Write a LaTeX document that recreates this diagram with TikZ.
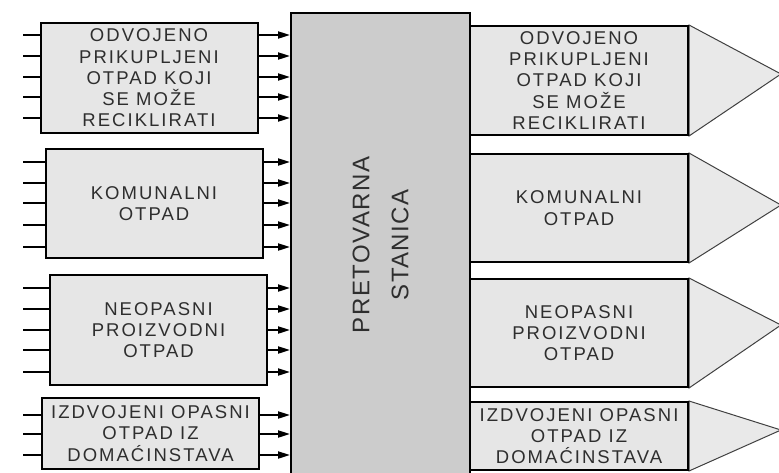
\documentclass[tikz,border=0pt]{standalone}
\usepackage{fontspec}
\setmainfont{Liberation Sans}
\newfontfamily\boxfont{Liberation Sans}[LetterSpace=11]
\newfontfamily\hubfont{Liberation Sans}[LetterSpace=6]
\usepackage{tikz}
\usetikzlibrary{arrows.meta,backgrounds}
\definecolor{boxgray}{HTML}{E6E6E6}
\definecolor{hubgray}{HTML}{CCCCCC}
\definecolor{wedgegray}{HTML}{E9E9E9}
\definecolor{txtgray}{HTML}{2E2E2E}

\begin{document}
\begin{tikzpicture}[x=1pt, y=-1pt, >={Triangle[length=12pt,width=7pt]},
  srcbox/.style={draw, line width=2pt, fill=boxgray, minimum width=217pt,
    inner sep=0pt, align=center, text=txtgray,
    font=\boxfont\fontsize{18.5}{21.3}\selectfont},
  dstbox/.style={srcbox, minimum width=218pt},
  hubbox/.style={draw, line width=2pt, fill=hubgray, minimum width=179pt,
    minimum height=464pt, inner sep=0pt},
  hubtext/.style={align=center, text=txtgray,
    font=\hubfont\fontsize{24}{39}\selectfont},
  feed/.style={line width=2pt},
  thinfeed/.style={line width=1.2pt},
  flow/.style={->, line width=2pt},
  wedge/.style={draw=black!75, line width=1pt, fill=wedgegray}]

\clip (0,0) rectangle (779,472);

% ---- Transfer station ----
\node[hubbox] (hub) at (380.5,245) {};
\node[hubtext, rotate=90] (hublabel) at (hub.center) {PRETOVARNA\\STANICA};

% ---- Incoming waste streams (left) ----
\node[srcbox, minimum height=110pt] (src1) at (149,78)
  {ODVOJENO\\PRIKUPLJENI\\OTPAD KOJI\\SE MOŽE\\RECIKLIRATI};
\node[srcbox, minimum height=109pt] (src2) at (154,203.5)
  {KOMUNALNI\\OTPAD};
\node[srcbox, minimum height=110pt] (src3) at (158.5,330)
  {NEOPASNI\\PROIZVODNI\\OTPAD};
\node[srcbox, minimum height=71pt] (src4) at (150.5,433.5)
  {IZDVOJENI OPASNI\\OTPAD IZ\\DOMAĆINSTAVA};

\foreach \y in {35,56,77,97,118} {
  \draw[feed] (src1.west |- 0,\y) -- (23,\y);
  \draw[flow] (src1.east |- 0,\y) -- (hub.west |- 0,\y);
}
\foreach \y in {162,183,203,225,247} {
  \draw[feed] (src2.west |- 0,\y) -- (23,\y);
  \draw[flow] (src2.east |- 0,\y) -- (hub.west |- 0,\y);
}
\foreach \y/\w in {288/feed,309/feed,330/feed,350/thinfeed,372/thinfeed} {
  \draw[\w] (src3.west |- 0,\y) -- (23,\y);
  \draw[flow] (src3.east |- 0,\y) -- (hub.west |- 0,\y);
}
\foreach \y in {415,434,455} {
  \draw[thinfeed] (src4.west |- 0,\y) -- (23,\y);
  \draw[flow] (src4.east |- 0,\y) -- (hub.west |- 0,\y);
}

% ---- Outgoing waste streams (right) ----
\node[dstbox, minimum height=109pt] (dst1) at (579,80.5)
  {ODVOJENO\\PRIKUPLJENI\\OTPAD KOJI\\SE MOŽE\\RECIKLIRATI};
\node[dstbox, minimum height=108pt] (dst2) at (579,208)
  {KOMUNALNI\\OTPAD};
\node[dstbox, minimum height=108pt] (dst3) at (579,333)
  {NEOPASNI\\PROIZVODNI\\OTPAD};
\node[dstbox, minimum height=68pt] (dst4) at (579,436)
  {IZDVOJENI OPASNI\\OTPAD IZ\\DOMAĆINSTAVA};

\begin{scope}[on background layer]
  \foreach \n/\t in {1/74,2/205,3/325,4/430}
    \draw[wedge] (dst\n.north east) -- (781,\t) -- (dst\n.south east) -- cycle;
\end{scope}

\end{tikzpicture}
\end{document}
